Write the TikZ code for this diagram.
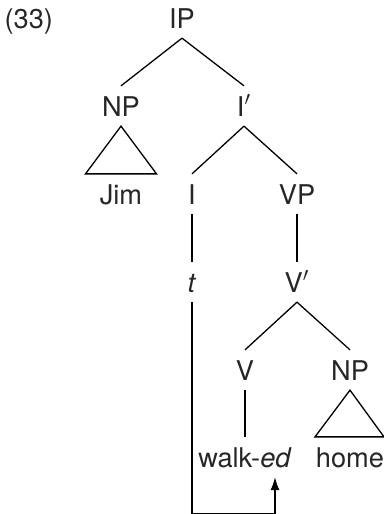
\documentclass[tikz,border=0pt]{standalone}
\usepackage{fontspec}
\setmainfont{TeX Gyre Heros}
\usetikzlibrary{calc,arrows.meta}

\begin{document}
\begin{tikzpicture}[x=0.5pt, y=-0.5pt, line width=0.65pt,
    cat/.style={anchor=base, inner xsep=0pt, inner ysep=4.75pt, text=black!85,
      text height=10pt, text depth=0pt, font=\fontsize{13.6}{16}\selectfont}]
  \useasboundingbox (0,0) rectangle (384,514);
  \node[cat, anchor=base west] (num) at (4,28) {(33)};
  % labels, one row every 88 units
  \node[cat] (ip) at (182,28) {IP};
  \node[cat] (np1) at (121,116) {NP};
  \node[cat] (ibar) at (244,116) {I$'$};
  \node[cat] (jim) at (121,204) {Jim};
  \node[cat] (i) at (192,204) {I};
  \node[cat] (vp) at (297,204) {VP};
  \node[cat] (t) at (192,292) {\textit{t}};
  \node[cat] (vbar) at (297,292) {V$'$};
  \node[cat] (v) at (245,380) {V};
  \node[cat] (np2) at (350,380) {NP};
  \node[cat] (walked) at (245,467) {walk-\textit{ed}};
  \node[cat] (home) at (350,467) {home};
  % branches
  \draw (ip.south) -- (np1.north);
  \draw (ip.south) -- (ibar.north);
  \draw (ibar.south) -- (i.north);
  \draw (ibar.south) -- (vp.north);
  \draw (i.south) -- (t.north);
  \draw (vp.south) -- (vbar.north);
  \draw (vbar.south) -- (v.north);
  \draw (vbar.south) -- (np2.north);
  \draw (v.south) -- (walked.north);
  % triangles
  \draw (np1.south) -- ($(jim.north)+(-35.5,0)$) -- ($(jim.north)+(35.5,0)$) -- cycle;
  \draw (np2.south) -- ($(home.north)+(-35,0)$) -- ($(home.north)+(34,0)$) -- cycle;
  % movement of t to the suffix
  \coordinate (edfoot) at (275,0 |- walked.south);
  \draw[-{Latex[length=6.5pt,width=4.5pt]}] (t.south) |- ($(edfoot)+(0,36.5)$) -- (edfoot);
\end{tikzpicture}
\end{document}
